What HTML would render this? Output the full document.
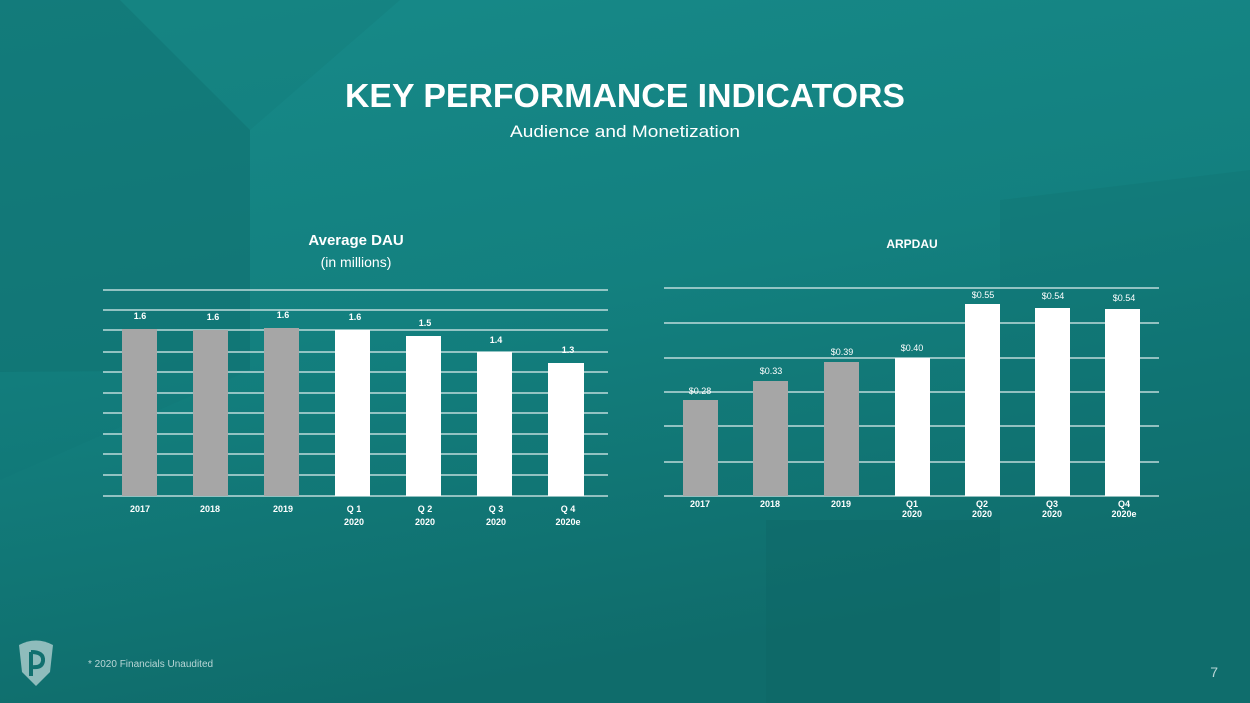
<!DOCTYPE html>
<html><head><meta charset="utf-8"><style>
html,body{margin:0;padding:0;width:1250px;height:703px;overflow:hidden;font-family:"Liberation Sans",Arial,sans-serif}
</style></head><body>
<svg width="1250" height="703" xmlns="http://www.w3.org/2000/svg">
<defs>
<linearGradient id="bg" x1="0" y1="0" x2="0.3" y2="1">
<stop offset="0" stop-color="#178a89"/><stop offset="0.5" stop-color="#13807f"/><stop offset="1" stop-color="#0f6c6b"/>
</linearGradient>
</defs>
<rect width="1250" height="703" fill="url(#bg)"/>
<polygon points="0,0 120,0 250,130 250,370 0,372" fill="#11706f" opacity="0.55"/>
<polygon points="0,372 250,370 0,480" fill="#127877" opacity="0.4"/>
<polygon points="120,0 400,0 250,130" fill="#147c7b" opacity="0.4"/>
<polygon points="766,520 1000,520 1000,703 766,703" fill="#0e6564" opacity="0.35"/>
<polygon points="1000,200 1250,170 1250,703 1000,703" fill="#10706f" opacity="0.3"/>
<text x="625" y="107" text-anchor="middle" fill="#fff" font-size="33" font-weight="bold" textLength="560" lengthAdjust="spacingAndGlyphs">KEY PERFORMANCE INDICATORS</text>
<text x="625" y="137" text-anchor="middle" fill="#fff" font-size="17" textLength="230" lengthAdjust="spacingAndGlyphs">Audience and Monetization</text>
<text x="356" y="245" text-anchor="middle" fill="#fff" font-size="15" font-weight="bold">Average DAU</text>
<text x="356" y="267" text-anchor="middle" fill="#fff" font-size="14">(in millions)</text>
<text x="912" y="248" text-anchor="middle" fill="#fff" font-size="12" font-weight="bold">ARPDAU</text>
<g stroke="#dfeeee" stroke-width="1.3">
<line x1="103" x2="608" y1="290" y2="290"/><line x1="103" x2="608" y1="310" y2="310"/><line x1="103" x2="608" y1="330" y2="330"/><line x1="103" x2="608" y1="352" y2="352"/><line x1="103" x2="608" y1="372" y2="372"/><line x1="103" x2="608" y1="393" y2="393"/><line x1="103" x2="608" y1="413" y2="413"/><line x1="103" x2="608" y1="434" y2="434"/><line x1="103" x2="608" y1="454" y2="454"/><line x1="103" x2="608" y1="475" y2="475"/><line x1="103" x2="608" y1="496" y2="496"/>
<line x1="664" x2="1159" y1="288" y2="288"/><line x1="664" x2="1159" y1="323" y2="323"/><line x1="664" x2="1159" y1="358" y2="358"/><line x1="664" x2="1159" y1="392" y2="392"/><line x1="664" x2="1159" y1="426" y2="426"/><line x1="664" x2="1159" y1="462" y2="462"/><line x1="664" x2="1159" y1="496" y2="496"/>
</g>
<g fill="#a6a6a6">
<rect x="122" y="329" width="35" height="167"/><rect x="193" y="330" width="35" height="166"/><rect x="264" y="328" width="35" height="168"/>
<rect x="683" y="400" width="35" height="96"/><rect x="753" y="381" width="35" height="115"/><rect x="824" y="362" width="35" height="134"/>
</g>
<g fill="#fff">
<rect x="335" y="330" width="35" height="166"/><rect x="406" y="336" width="35" height="160"/><rect x="477" y="352" width="35" height="144"/><rect x="548" y="363" width="36" height="133"/>
<rect x="895" y="358" width="35" height="138"/><rect x="965" y="304" width="35" height="192"/><rect x="1035" y="308" width="35" height="188"/><rect x="1105" y="309" width="35" height="187"/>
</g>
<g fill="#fff" font-size="9" font-weight="bold" text-anchor="middle">
<text x="140" y="319">1.6</text><text x="213" y="320">1.6</text><text x="283" y="318">1.6</text><text x="355" y="320">1.6</text><text x="425" y="326">1.5</text><text x="496" y="343">1.4</text><text x="568" y="353">1.3</text>
<text x="140" y="512">2017</text><text x="210" y="512">2018</text><text x="283" y="512">2019</text>
<text x="354" y="512">Q 1</text><text x="354" y="525">2020</text><text x="425" y="512">Q 2</text><text x="425" y="525">2020</text>
<text x="496" y="512">Q 3</text><text x="496" y="525">2020</text><text x="568" y="512">Q 4</text><text x="568" y="525">2020e</text>
<text x="700" y="507">2017</text><text x="770" y="507">2018</text><text x="841" y="507">2019</text>
<text x="912" y="507">Q1</text><text x="912" y="517">2020</text><text x="982" y="507">Q2</text><text x="982" y="517">2020</text>
<text x="1052" y="507">Q3</text><text x="1052" y="517">2020</text><text x="1124" y="507">Q4</text><text x="1124" y="517">2020e</text>
</g>
<g fill="#fff" font-size="9" text-anchor="middle">
<text x="700" y="394">$0.28</text><text x="771" y="374">$0.33</text><text x="842" y="355">$0.39</text><text x="912" y="351">$0.40</text><text x="983" y="298">$0.55</text><text x="1053" y="299">$0.54</text><text x="1124" y="301">$0.54</text>
</g>
<path d="M19 645 Q36 636 53 645 L50 672 L36 686 L22 672 Z" fill="#8fbcbc"/>
<path d="M31 652 L31 676 M31 652 Q44 652 43 661 Q42 668 33 667" stroke="#11706f" stroke-width="4" fill="none"/>
<text x="88" y="667" fill="#b9d6d6" font-size="10">* 2020 Financials Unaudited</text>
<text x="1218" y="677" fill="#b9d6d6" font-size="14" text-anchor="end">7</text>
</svg>
</body></html>
